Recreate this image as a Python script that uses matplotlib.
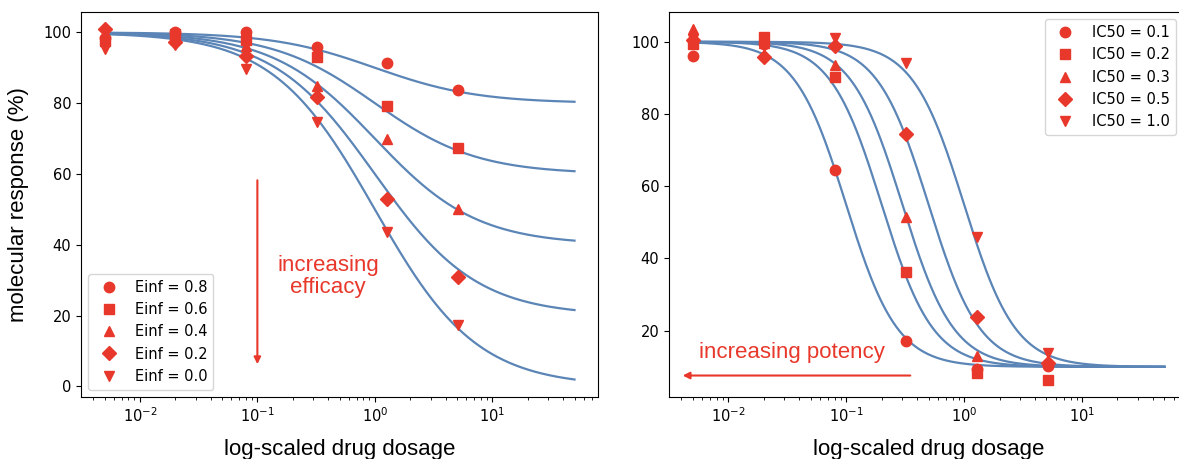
import numpy as np
import matplotlib
matplotlib.use('Agg')
import matplotlib.pyplot as plt

# doses used in the experiments
doses = [0.005, 0.02, 0.08, 0.32, 1.28, 5.12]

# left panel: varying efficacy (IC50 = 1, hill = 1)
einf_values = [0.8, 0.6, 0.4, 0.2, 0.0]
einf_ic50 = 1.0
einf_hill = 1.0
einf_data = [
    [98.5, 100.0, 100.0, 95.8, 91.2, 83.6],
    [97.5, 99.5, 97.9, 93.0, 79.2, 67.2],
    [99.0, 98.5, 96.0, 84.8, 70.0, 50.0],
    [100.8, 97.2, 93.2, 81.8, 52.8, 31.0],
    [95.2, 96.4, 89.6, 74.8, 43.6, 17.3],
]

# right panel: varying potency (Einf = 0.1, hill = 2)
ic50_values = [0.1, 0.2, 0.3, 0.5, 1.0]
ic50_einf = 0.1
ic50_hill = 2.0
ic50_data = [
    [96.1, 99.5, 64.4, 17.1, 9.3, 10.2],
    [99.4, 101.4, 90.3, 36.4, 8.4, 6.5],
    [103.4, 99.8, 93.5, 51.4, 13.1, 11.5],
    [100.6, 95.9, 98.8, 74.5, 23.8, 11.2],
    [100.8, 98.8, 101.1, 94.0, 46.0, 13.9],
]

markers = ['o', 's', '^', 'D', 'v']
red = '#e8382b'
blue = '#5b85b6'
label_font = ['Liberation Sans', 'DejaVu Sans']


def response(x, einf, ic50, hill):
    return 100 * (1 + (einf - 1) * x**hill / (ic50**hill + x**hill))


x = np.geomspace(0.005, 50, 300)

fig = plt.figure(figsize=(11.79, 4.59), dpi=100)
ax1 = fig.add_axes([81 / 1179, 62 / 459, 517 / 1179, 385 / 459])
ax2 = fig.add_axes([669 / 1179, 62 / 459, 519 / 1179, 385 / 459])

for i, e in enumerate(einf_values):
    ax1.plot(x, response(x, e, einf_ic50, einf_hill), color=blue, lw=1.6, zorder=2)
for i, e in enumerate(einf_values):
    ax1.plot(doses, einf_data[i], linestyle='none', marker=markers[i], color=red,
             markersize=7.5, zorder=3, label='Einf = {}'.format(e))

for i, c in enumerate(ic50_values):
    ax2.plot(x, response(x, ic50_einf, c, ic50_hill), color=blue, lw=1.6, zorder=2)
for i, c in enumerate(ic50_values):
    ax2.plot(doses, ic50_data[i], linestyle='none', marker=markers[i], color=red,
             markersize=7.5, zorder=3, label='IC50 = {}'.format(c))

for ax in (ax1, ax2):
    ax.set_xscale('log')
    ax.tick_params(labelsize=10.5)
    ax.set_xlabel('log-scaled drug dosage', fontsize=16, family=label_font, labelpad=10)

ax1.set_ylabel('molecular response (%)', fontsize=16, family=label_font, labelpad=10)

ax1.legend(loc='lower left', fontsize=10.5)
ax2.legend(loc='upper right', fontsize=10.5, bbox_to_anchor=(0.99, 1.0))

# annotations
ax1.annotate('', xy=(0.1, 5.5), xytext=(0.1, 59),
             arrowprops=dict(arrowstyle='-|>', color=red, lw=1.5, mutation_scale=10))
ax1.text(0.4, 31, 'increasing\nefficacy', color=red, fontsize=16, family=label_font,
         ha='center', va='center', linespacing=1.1)

ax2.annotate('', xy=(0.0039, 7.6), xytext=(0.37, 7.6),
             arrowprops=dict(arrowstyle='-|>', color=red, lw=1.5, mutation_scale=10))
ax2.text(0.035, 14.0, 'increasing potency', color=red, fontsize=16, family=label_font,
         ha='center', va='center')

fig.savefig('out.png', dpi=100)
